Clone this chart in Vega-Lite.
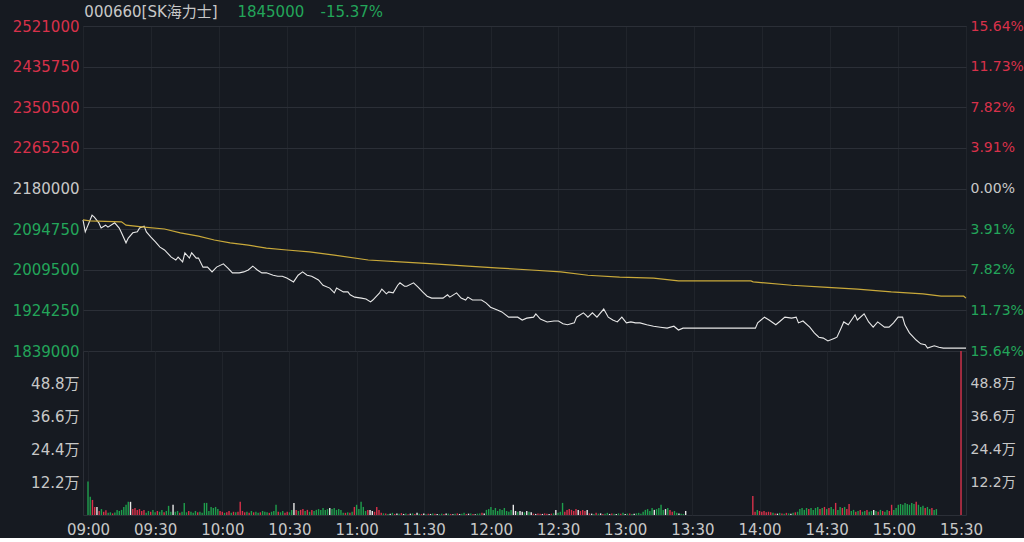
{
  "$schema": "https://vega.github.io/schema/vega-lite/v6.json",
  "background": "#161a21",
  "padding": {"left": 11, "top": 4, "right": 0, "bottom": 0},
  "spacing": 0,
  "bounds": "flush",
  "config": {
    "view": {"stroke": "#2b2f37", "strokeWidth": 1},
    "font": "DejaVu Sans",
    "axis": {"domain": false, "ticks": false, "labelFont": "DejaVu Sans", "labelFontSize": 15, "gridColor": "#2b2f37", "labelOverlap": false, "labelFlush": false, "labelBound": false}
  },
  "datasets": {
    "price": [
      {"t":0,"p":2114000},{"t":1,"p":2089000},{"t":4,"p":2124000},{"t":5,"p":2120000},{"t":7,"p":2108000},{"t":8,"p":2097000},{"t":10,"p":2103000},{"t":11,"p":2099000},{"t":13,"p":2105000},{"t":14,"p":2108000},{"t":16,"p":2097000},{"t":17,"p":2087000},{"t":19,"p":2066000},{"t":20,"p":2076000},{"t":22,"p":2087000},{"t":24,"p":2089000},{"t":25,"p":2097000},{"t":27,"p":2101000},{"t":28,"p":2089000},{"t":30,"p":2078000},{"t":32,"p":2068000},{"t":34,"p":2057000},{"t":36,"p":2051000},{"t":39,"p":2036000},{"t":41,"p":2030000},{"t":42,"p":2036000},{"t":44,"p":2026000},{"t":45,"p":2045000},{"t":47,"p":2034000},{"t":48,"p":2045000},{"t":50,"p":2034000},{"t":51,"p":2034000},{"t":53,"p":2015000},{"t":55,"p":2015000},{"t":57,"p":2005000},{"t":59,"p":2015000},{"t":62,"p":2022000},{"t":64,"p":2013000},{"t":66,"p":2003000},{"t":69,"p":2003000},{"t":71,"p":2005000},{"t":73,"p":2009000},{"t":75,"p":2017000},{"t":77,"p":2009000},{"t":79,"p":2003000},{"t":81,"p":2003000},{"t":84,"p":1998000},{"t":86,"p":1996000},{"t":88,"p":1996000},{"t":90,"p":1992000},{"t":93,"p":1984000},{"t":95,"p":1998000},{"t":97,"p":2005000},{"t":99,"p":1998000},{"t":101,"p":1996000},{"t":104,"p":1988000},{"t":106,"p":1977000},{"t":109,"p":1971000},{"t":111,"p":1961000},{"t":112,"p":1971000},{"t":115,"p":1963000},{"t":117,"p":1963000},{"t":118,"p":1957000},{"t":120,"p":1952000},{"t":123,"p":1950000},{"t":125,"p":1948000},{"t":127,"p":1942000},{"t":128,"p":1946000},{"t":131,"p":1961000},{"t":132,"p":1969000},{"t":134,"p":1959000},{"t":135,"p":1963000},{"t":137,"p":1961000},{"t":139,"p":1977000},{"t":140,"p":1982000},{"t":142,"p":1975000},{"t":143,"p":1975000},{"t":146,"p":1982000},{"t":148,"p":1973000},{"t":150,"p":1963000},{"t":152,"p":1954000},{"t":154,"p":1950000},{"t":157,"p":1950000},{"t":159,"p":1950000},{"t":161,"p":1957000},{"t":162,"p":1952000},{"t":165,"p":1961000},{"t":167,"p":1950000},{"t":169,"p":1946000},{"t":170,"p":1952000},{"t":172,"p":1946000},{"t":176,"p":1946000},{"t":178,"p":1940000},{"t":180,"p":1931000},{"t":183,"p":1925000},{"t":185,"p":1921000},{"t":188,"p":1910000},{"t":190,"p":1910000},{"t":192,"p":1910000},{"t":194,"p":1904000},{"t":196,"p":1908000},{"t":199,"p":1910000},{"t":200,"p":1917000},{"t":202,"p":1906000},{"t":205,"p":1900000},{"t":208,"p":1902000},{"t":210,"p":1902000},{"t":212,"p":1896000},{"t":214,"p":1894000},{"t":217,"p":1898000},{"t":218,"p":1910000},{"t":221,"p":1919000},{"t":222,"p":1915000},{"t":223,"p":1910000},{"t":225,"p":1919000},{"t":227,"p":1910000},{"t":230,"p":1927000},{"t":232,"p":1910000},{"t":234,"p":1904000},{"t":236,"p":1900000},{"t":238,"p":1910000},{"t":240,"p":1898000},{"t":242,"p":1900000},{"t":244,"p":1898000},{"t":246,"p":1898000},{"t":249,"p":1894000},{"t":252,"p":1891000},{"t":255,"p":1889000},{"t":258,"p":1887000},{"t":261,"p":1891000},{"t":263,"p":1883000},{"t":265,"p":1887000},{"t":268,"p":1887000},{"t":297,"p":1887000},{"t":298,"p":1898000},{"t":301,"p":1910000},{"t":303,"p":1904000},{"t":306,"p":1894000},{"t":308,"p":1902000},{"t":310,"p":1910000},{"t":313,"p":1908000},{"t":315,"p":1910000},{"t":316,"p":1898000},{"t":318,"p":1902000},{"t":321,"p":1889000},{"t":323,"p":1877000},{"t":325,"p":1868000},{"t":327,"p":1866000},{"t":329,"p":1860000},{"t":332,"p":1866000},{"t":333,"p":1868000},{"t":335,"p":1889000},{"t":336,"p":1900000},{"t":338,"p":1894000},{"t":341,"p":1915000},{"t":342,"p":1904000},{"t":345,"p":1917000},{"t":347,"p":1900000},{"t":349,"p":1889000},{"t":351,"p":1900000},{"t":354,"p":1889000},{"t":356,"p":1889000},{"t":358,"p":1898000},{"t":360,"p":1910000},{"t":362,"p":1910000},{"t":363,"p":1894000},{"t":365,"p":1877000},{"t":368,"p":1862000},{"t":370,"p":1854000},{"t":372,"p":1852000},{"t":373,"p":1845000},{"t":376,"p":1850000},{"t":378,"p":1847000},{"t":380,"p":1845000},{"t":390,"p":1845000}
    ],
    "avg": [
      {"t":0,"a":2114000},{"t":3,"a":2112000},{"t":17,"a":2110000},{"t":19,"a":2103000},{"t":27,"a":2099000},{"t":36,"a":2095000},{"t":43,"a":2087000},{"t":51,"a":2080000},{"t":58,"a":2072000},{"t":65,"a":2066000},{"t":73,"a":2061000},{"t":81,"a":2055000},{"t":90,"a":2051000},{"t":100,"a":2047000},{"t":111,"a":2040000},{"t":126,"a":2030000},{"t":140,"a":2026000},{"t":155,"a":2022000},{"t":170,"a":2017000},{"t":184,"a":2013000},{"t":198,"a":2009000},{"t":211,"a":2005000},{"t":223,"a":1998000},{"t":237,"a":1994000},{"t":252,"a":1992000},{"t":263,"a":1986000},{"t":295,"a":1986000},{"t":296,"a":1984000},{"t":313,"a":1977000},{"t":327,"a":1973000},{"t":342,"a":1969000},{"t":357,"a":1963000},{"t":371,"a":1959000},{"t":379,"a":1954000},{"t":389,"a":1954000},{"t":390,"a":1950000}
    ],
    "vol": [
      {"t":0,"v":125000,"d":"d"},{"t":1,"v":68000,"d":"d"},{"t":2,"v":56000,"d":"u"},{"t":3,"v":30000,"d":"u"},{"t":4,"v":30000,"d":"f"},{"t":5,"v":15000,"d":"u"},{"t":6,"v":22000,"d":"d"},{"t":7,"v":12000,"d":"u"},{"t":8,"v":18000,"d":"u"},{"t":9,"v":8000,"d":"d"},{"t":10,"v":10000,"d":"d"},{"t":11,"v":6000,"d":"u"},{"t":12,"v":9000,"d":"d"},{"t":13,"v":19000,"d":"d"},{"t":14,"v":15000,"d":"d"},{"t":15,"v":19000,"d":"d"},{"t":16,"v":30000,"d":"d"},{"t":17,"v":38000,"d":"d"},{"t":18,"v":49000,"d":"d"},{"t":19,"v":49000,"d":"f"},{"t":20,"v":22000,"d":"u"},{"t":21,"v":26000,"d":"u"},{"t":22,"v":19000,"d":"u"},{"t":23,"v":22000,"d":"u"},{"t":24,"v":15000,"d":"u"},{"t":25,"v":19000,"d":"u"},{"t":26,"v":8000,"d":"d"},{"t":27,"v":15000,"d":"d"},{"t":28,"v":12000,"d":"u"},{"t":29,"v":19000,"d":"d"},{"t":30,"v":10000,"d":"d"},{"t":31,"v":15000,"d":"u"},{"t":32,"v":12000,"d":"d"},{"t":33,"v":19000,"d":"d"},{"t":34,"v":10000,"d":"u"},{"t":35,"v":15000,"d":"d"},{"t":36,"v":34000,"d":"d"},{"t":37,"v":12000,"d":"d"},{"t":38,"v":38000,"d":"f"},{"t":39,"v":12000,"d":"d"},{"t":40,"v":15000,"d":"d"},{"t":41,"v":8000,"d":"u"},{"t":42,"v":12000,"d":"d"},{"t":43,"v":45000,"d":"d"},{"t":44,"v":10000,"d":"d"},{"t":45,"v":15000,"d":"u"},{"t":46,"v":12000,"d":"d"},{"t":47,"v":8000,"d":"d"},{"t":48,"v":15000,"d":"d"},{"t":49,"v":10000,"d":"u"},{"t":50,"v":12000,"d":"d"},{"t":51,"v":8000,"d":"d"},{"t":52,"v":45000,"d":"d"},{"t":53,"v":45000,"d":"d"},{"t":54,"v":15000,"d":"d"},{"t":55,"v":30000,"d":"d"},{"t":56,"v":26000,"d":"d"},{"t":57,"v":30000,"d":"d"},{"t":58,"v":22000,"d":"d"},{"t":59,"v":15000,"d":"u"},{"t":60,"v":12000,"d":"u"},{"t":61,"v":8000,"d":"d"},{"t":62,"v":10000,"d":"u"},{"t":63,"v":15000,"d":"u"},{"t":64,"v":8000,"d":"d"},{"t":65,"v":12000,"d":"u"},{"t":66,"v":10000,"d":"d"},{"t":67,"v":12000,"d":"u"},{"t":68,"v":49000,"d":"u"},{"t":69,"v":15000,"d":"u"},{"t":70,"v":10000,"d":"u"},{"t":71,"v":12000,"d":"d"},{"t":72,"v":8000,"d":"u"},{"t":73,"v":15000,"d":"d"},{"t":74,"v":10000,"d":"u"},{"t":75,"v":12000,"d":"d"},{"t":76,"v":8000,"d":"d"},{"t":77,"v":10000,"d":"u"},{"t":78,"v":15000,"d":"d"},{"t":79,"v":12000,"d":"d"},{"t":80,"v":10000,"d":"d"},{"t":81,"v":8000,"d":"u"},{"t":82,"v":12000,"d":"d"},{"t":83,"v":15000,"d":"d"},{"t":84,"v":38000,"d":"d"},{"t":85,"v":12000,"d":"u"},{"t":86,"v":10000,"d":"d"},{"t":87,"v":15000,"d":"d"},{"t":88,"v":8000,"d":"u"},{"t":89,"v":12000,"d":"u"},{"t":90,"v":10000,"d":"d"},{"t":91,"v":19000,"d":"d"},{"t":92,"v":45000,"d":"f"},{"t":93,"v":19000,"d":"u"},{"t":94,"v":15000,"d":"d"},{"t":95,"v":19000,"d":"u"},{"t":96,"v":22000,"d":"u"},{"t":97,"v":15000,"d":"d"},{"t":98,"v":19000,"d":"u"},{"t":99,"v":12000,"d":"d"},{"t":100,"v":19000,"d":"u"},{"t":101,"v":15000,"d":"d"},{"t":102,"v":19000,"d":"d"},{"t":103,"v":22000,"d":"d"},{"t":104,"v":19000,"d":"d"},{"t":105,"v":26000,"d":"d"},{"t":106,"v":19000,"d":"d"},{"t":107,"v":22000,"d":"d"},{"t":108,"v":26000,"d":"f"},{"t":109,"v":22000,"d":"d"},{"t":110,"v":26000,"d":"d"},{"t":111,"v":19000,"d":"d"},{"t":112,"v":22000,"d":"d"},{"t":113,"v":19000,"d":"d"},{"t":114,"v":8000,"d":"d"},{"t":115,"v":8000,"d":"u"},{"t":116,"v":10000,"d":"d"},{"t":117,"v":8000,"d":"u"},{"t":118,"v":12000,"d":"d"},{"t":119,"v":30000,"d":"u"},{"t":120,"v":38000,"d":"d"},{"t":121,"v":22000,"d":"d"},{"t":122,"v":49000,"d":"d"},{"t":123,"v":30000,"d":"d"},{"t":124,"v":15000,"d":"d"},{"t":125,"v":19000,"d":"u"},{"t":126,"v":19000,"d":"f"},{"t":127,"v":15000,"d":"f"},{"t":128,"v":12000,"d":"u"},{"t":129,"v":30000,"d":"u"},{"t":130,"v":19000,"d":"u"},{"t":131,"v":8000,"d":"u"},{"t":132,"v":6000,"d":"d"},{"t":133,"v":6000,"d":"u"},{"t":134,"v":4000,"d":"d"},{"t":135,"v":5000,"d":"f"},{"t":136,"v":8000,"d":"d"},{"t":137,"v":4000,"d":"u"},{"t":138,"v":6000,"d":"f"},{"t":139,"v":5000,"d":"d"},{"t":140,"v":7000,"d":"u"},{"t":141,"v":4000,"d":"f"},{"t":142,"v":6000,"d":"d"},{"t":143,"v":3000,"d":"u"},{"t":144,"v":5000,"d":"f"},{"t":145,"v":6000,"d":"d"},{"t":146,"v":4000,"d":"u"},{"t":147,"v":8000,"d":"f"},{"t":148,"v":5000,"d":"d"},{"t":149,"v":4000,"d":"u"},{"t":150,"v":6000,"d":"f"},{"t":151,"v":3000,"d":"d"},{"t":152,"v":5000,"d":"u"},{"t":153,"v":4000,"d":"f"},{"t":154,"v":6000,"d":"d"},{"t":155,"v":5000,"d":"u"},{"t":156,"v":4000,"d":"f"},{"t":157,"v":3000,"d":"d"},{"t":158,"v":5000,"d":"d"},{"t":159,"v":4000,"d":"u"},{"t":160,"v":6000,"d":"f"},{"t":161,"v":5000,"d":"d"},{"t":162,"v":4000,"d":"u"},{"t":163,"v":3000,"d":"f"},{"t":164,"v":5000,"d":"d"},{"t":165,"v":6000,"d":"u"},{"t":166,"v":4000,"d":"f"},{"t":167,"v":5000,"d":"d"},{"t":168,"v":8000,"d":"d"},{"t":169,"v":4000,"d":"u"},{"t":170,"v":5000,"d":"f"},{"t":171,"v":6000,"d":"d"},{"t":172,"v":4000,"d":"u"},{"t":173,"v":3000,"d":"f"},{"t":174,"v":5000,"d":"d"},{"t":175,"v":6000,"d":"d"},{"t":176,"v":8000,"d":"u"},{"t":177,"v":6000,"d":"f"},{"t":178,"v":19000,"d":"d"},{"t":179,"v":22000,"d":"d"},{"t":180,"v":30000,"d":"d"},{"t":181,"v":19000,"d":"d"},{"t":182,"v":26000,"d":"d"},{"t":183,"v":15000,"d":"d"},{"t":184,"v":22000,"d":"d"},{"t":185,"v":19000,"d":"d"},{"t":186,"v":26000,"d":"d"},{"t":187,"v":15000,"d":"d"},{"t":188,"v":12000,"d":"d"},{"t":189,"v":19000,"d":"d"},{"t":190,"v":38000,"d":"f"},{"t":191,"v":15000,"d":"f"},{"t":192,"v":12000,"d":"d"},{"t":193,"v":15000,"d":"f"},{"t":194,"v":12000,"d":"f"},{"t":195,"v":10000,"d":"d"},{"t":196,"v":15000,"d":"f"},{"t":197,"v":12000,"d":"d"},{"t":198,"v":10000,"d":"f"},{"t":199,"v":5000,"d":"u"},{"t":200,"v":4000,"d":"f"},{"t":201,"v":6000,"d":"u"},{"t":202,"v":5000,"d":"u"},{"t":203,"v":4000,"d":"f"},{"t":204,"v":6000,"d":"u"},{"t":205,"v":5000,"d":"u"},{"t":206,"v":4000,"d":"f"},{"t":207,"v":5000,"d":"u"},{"t":208,"v":6000,"d":"d"},{"t":209,"v":19000,"d":"f"},{"t":210,"v":8000,"d":"d"},{"t":211,"v":12000,"d":"d"},{"t":212,"v":45000,"d":"d"},{"t":213,"v":12000,"d":"u"},{"t":214,"v":19000,"d":"u"},{"t":215,"v":22000,"d":"u"},{"t":216,"v":19000,"d":"u"},{"t":217,"v":15000,"d":"u"},{"t":218,"v":22000,"d":"u"},{"t":219,"v":19000,"d":"f"},{"t":220,"v":15000,"d":"u"},{"t":221,"v":19000,"d":"u"},{"t":222,"v":15000,"d":"u"},{"t":223,"v":19000,"d":"f"},{"t":224,"v":6000,"d":"u"},{"t":225,"v":5000,"d":"f"},{"t":226,"v":4000,"d":"d"},{"t":227,"v":8000,"d":"u"},{"t":228,"v":5000,"d":"d"},{"t":229,"v":6000,"d":"f"},{"t":230,"v":4000,"d":"u"},{"t":231,"v":5000,"d":"d"},{"t":232,"v":8000,"d":"d"},{"t":233,"v":4000,"d":"f"},{"t":234,"v":6000,"d":"u"},{"t":235,"v":5000,"d":"d"},{"t":236,"v":4000,"d":"f"},{"t":237,"v":6000,"d":"d"},{"t":238,"v":5000,"d":"u"},{"t":239,"v":8000,"d":"d"},{"t":240,"v":4000,"d":"f"},{"t":241,"v":5000,"d":"d"},{"t":242,"v":6000,"d":"u"},{"t":243,"v":4000,"d":"d"},{"t":244,"v":5000,"d":"f"},{"t":245,"v":6000,"d":"d"},{"t":246,"v":8000,"d":"d"},{"t":247,"v":5000,"d":"d"},{"t":248,"v":12000,"d":"d"},{"t":249,"v":19000,"d":"d"},{"t":250,"v":22000,"d":"d"},{"t":251,"v":15000,"d":"d"},{"t":252,"v":26000,"d":"d"},{"t":253,"v":19000,"d":"f"},{"t":254,"v":22000,"d":"d"},{"t":255,"v":26000,"d":"d"},{"t":256,"v":38000,"d":"d"},{"t":257,"v":19000,"d":"d"},{"t":258,"v":22000,"d":"f"},{"t":259,"v":26000,"d":"d"},{"t":260,"v":19000,"d":"u"},{"t":261,"v":12000,"d":"u"},{"t":262,"v":15000,"d":"d"},{"t":263,"v":8000,"d":"d"},{"t":264,"v":6000,"d":"f"},{"t":265,"v":5000,"d":"d"},{"t":266,"v":4000,"d":"d"},{"t":267,"v":15000,"d":"f"},{"t":297,"v":71000,"d":"u"},{"t":298,"v":12000,"d":"u"},{"t":299,"v":19000,"d":"d"},{"t":300,"v":15000,"d":"u"},{"t":301,"v":12000,"d":"u"},{"t":302,"v":15000,"d":"u"},{"t":303,"v":10000,"d":"u"},{"t":304,"v":12000,"d":"u"},{"t":305,"v":10000,"d":"u"},{"t":306,"v":8000,"d":"d"},{"t":307,"v":6000,"d":"u"},{"t":308,"v":5000,"d":"f"},{"t":309,"v":8000,"d":"d"},{"t":310,"v":6000,"d":"u"},{"t":311,"v":5000,"d":"d"},{"t":312,"v":8000,"d":"u"},{"t":313,"v":6000,"d":"d"},{"t":314,"v":5000,"d":"f"},{"t":315,"v":8000,"d":"d"},{"t":316,"v":10000,"d":"u"},{"t":317,"v":12000,"d":"d"},{"t":318,"v":22000,"d":"d"},{"t":319,"v":26000,"d":"d"},{"t":320,"v":19000,"d":"d"},{"t":321,"v":26000,"d":"d"},{"t":322,"v":22000,"d":"u"},{"t":323,"v":26000,"d":"d"},{"t":324,"v":19000,"d":"d"},{"t":325,"v":26000,"d":"d"},{"t":326,"v":30000,"d":"d"},{"t":327,"v":22000,"d":"u"},{"t":328,"v":26000,"d":"d"},{"t":329,"v":30000,"d":"u"},{"t":330,"v":22000,"d":"d"},{"t":331,"v":26000,"d":"u"},{"t":332,"v":30000,"d":"d"},{"t":333,"v":22000,"d":"d"},{"t":334,"v":45000,"d":"u"},{"t":335,"v":19000,"d":"d"},{"t":336,"v":30000,"d":"d"},{"t":337,"v":26000,"d":"u"},{"t":338,"v":30000,"d":"d"},{"t":339,"v":22000,"d":"u"},{"t":340,"v":41000,"d":"u"},{"t":341,"v":15000,"d":"d"},{"t":342,"v":19000,"d":"d"},{"t":343,"v":12000,"d":"u"},{"t":344,"v":15000,"d":"d"},{"t":345,"v":19000,"d":"u"},{"t":346,"v":12000,"d":"d"},{"t":347,"v":15000,"d":"d"},{"t":348,"v":19000,"d":"u"},{"t":349,"v":12000,"d":"d"},{"t":350,"v":15000,"d":"d"},{"t":351,"v":19000,"d":"f"},{"t":352,"v":15000,"d":"d"},{"t":353,"v":12000,"d":"u"},{"t":354,"v":19000,"d":"d"},{"t":355,"v":15000,"d":"u"},{"t":356,"v":12000,"d":"d"},{"t":357,"v":19000,"d":"d"},{"t":358,"v":15000,"d":"u"},{"t":359,"v":38000,"d":"u"},{"t":360,"v":19000,"d":"d"},{"t":361,"v":26000,"d":"d"},{"t":362,"v":38000,"d":"d"},{"t":363,"v":41000,"d":"d"},{"t":364,"v":38000,"d":"d"},{"t":365,"v":45000,"d":"d"},{"t":366,"v":41000,"d":"d"},{"t":367,"v":38000,"d":"d"},{"t":368,"v":45000,"d":"d"},{"t":369,"v":41000,"d":"d"},{"t":370,"v":49000,"d":"u"},{"t":371,"v":38000,"d":"d"},{"t":372,"v":30000,"d":"d"},{"t":373,"v":34000,"d":"d"},{"t":374,"v":26000,"d":"u"},{"t":375,"v":30000,"d":"d"},{"t":376,"v":22000,"d":"d"},{"t":377,"v":26000,"d":"u"},{"t":378,"v":19000,"d":"d"},{"t":379,"v":22000,"d":"d"},{"t":390,"v":800000,"d":"u"}
    ]
  },
  "vconcat": [
    {
      "width": 883,
      "height": 325,
      "layer": [
        {
          "data": {"name": "price"},
          "mark": {"type": "line", "color": "#e8e8e8", "strokeWidth": 1.1, "interpolate": "linear"},
          "encoding": {
            "x": {"field": "t", "type": "quantitative", "scale": {"domain": [0, 390], "nice": false, "zero": false},
                  "axis": {"title": null, "labels": false, "values": [0,30,60,90,120,150,180,210,240,270,300,330,360,390], "grid": true, "gridColor": "#20242b"}},
            "y": {"field": "p", "type": "quantitative", "scale": {"domain": [1839000, 2521000], "nice": false, "zero": false},
                  "axis": {"title": null, "orient": "left", "values": [1839000,1924250,2009500,2094750,2180000,2265250,2350500,2435750,2521000], "format": "d", "grid": true, "labelPadding": 4,
                           "labelColor": {"expr": "datum.value > 2180000 ? '#d8314a' : (datum.value < 2180000 ? '#23a55a' : '#c8c8c8')"}}}
          }
        },
        {
          "data": {"name": "avg"},
          "mark": {"type": "line", "color": "#c9a93a", "strokeWidth": 1.2},
          "encoding": {
            "x": {"field": "t", "type": "quantitative"},
            "y": {"field": "a", "type": "quantitative", "scale": {"domain": [1839000, 2521000], "nice": false, "zero": false},
                  "axis": {"title": null, "orient": "right", "values": [1839000,1924250,2009500,2094750,2180000,2265250,2350500,2435750,2521000], "grid": false, "labelPadding": 4, "labelFontSize": 14,
                           "labelExpr": "format(abs(datum.value / 2180000 - 1) * 100, '.2f') + '%'",
                           "labelColor": {"expr": "datum.value > 2180000 ? '#d8314a' : (datum.value < 2180000 ? '#23a55a' : '#c8c8c8')"}}}
          }
        },
        {
          "data": {"values": [{"label": "000660[SK海力士]"}]},
          "mark": {"type": "text", "align": "left", "baseline": "middle", "fontSize": 15, "color": "#c8c8c8", "font": "DejaVu Sans, Noto Sans CJK SC"},
          "encoding": {
            "x": {"datum": 0.6},
            "y": {"datum": 2550000, "scale": {"domain": [1839000, 2521000], "nice": false, "zero": false}, "axis": null},
            "text": {"field": "label"}
          }
        },
        {
          "data": {"values": [{"label": "1845000"}]},
          "mark": {"type": "text", "align": "left", "baseline": "middle", "fontSize": 15, "color": "#23a55a"},
          "encoding": {
            "x": {"datum": 68.2},
            "y": {"datum": 2550000, "scale": {"domain": [1839000, 2521000], "nice": false, "zero": false}, "axis": null},
            "text": {"field": "label"}
          }
        },
        {
          "data": {"values": [{"label": "-15.37%"}]},
          "mark": {"type": "text", "align": "left", "baseline": "middle", "fontSize": 15, "color": "#23a55a"},
          "encoding": {
            "x": {"datum": 104.9},
            "y": {"datum": 2550000, "scale": {"domain": [1839000, 2521000], "nice": false, "zero": false}, "axis": null},
            "text": {"field": "label"}
          }
        }
      ],
      "resolve": {"scale": {"y": "independent"}, "axis": {"y": "independent"}}
    },
    {
      "width": 883,
      "height": 164,
      "layer": [
        {
          "data": {"name": "vol"},
          "mark": {"type": "bar", "width": 1.4, "clip": true},
          "encoding": {
            "x": {"field": "t", "type": "quantitative", "scale": {"domain": [0, 390], "nice": false, "zero": false},
                  "axis": {"title": null, "values": [0,30,60,90,120,150,180,210,240,270,300,330,360,390], "grid": true, "gridColor": "#20242b", "labelColor": "#c8c8c8", "labelPadding": 7, "labelFontSize": 15,
                           "labelExpr": "timeFormat(datetime(2000, 0, 1, 9, datum.value), '%H:%M')"}},
            "y": {"field": "v", "type": "quantitative", "scale": {"domain": [0, 610000], "nice": false},
                  "axis": {"title": null, "orient": "left", "values": [122000, 244000, 366000, 488000], "grid": false, "labelColor": "#c8c8c8", "labelPadding": 4, "labelFont": "DejaVu Sans, Noto Sans CJK SC",
                           "labelExpr": "format(datum.value / 10000, '.1f') + '万'"}},
            "color": {"field": "d", "type": "nominal", "scale": {"domain": ["u", "d", "f"], "range": ["#d8314a", "#1f9e4c", "#e8e8e8"]}, "legend": null}
          }
        },
        {
          "data": {"name": "vol"},
          "mark": {"type": "bar", "width": 1.4, "clip": true, "opacity": 0},
          "encoding": {
            "x": {"field": "t", "type": "quantitative"},
            "y": {"field": "v", "type": "quantitative", "scale": {"domain": [0, 610000], "nice": false},
                  "axis": {"title": null, "orient": "right", "values": [122000, 244000, 366000, 488000], "grid": false, "labelColor": "#c8c8c8", "labelPadding": 4, "labelFontSize": 14, "labelFont": "DejaVu Sans, Noto Sans CJK SC",
                           "labelExpr": "format(datum.value / 10000, '.1f') + '万'"}}
          }
        }
      ],
      "resolve": {"scale": {"y": "independent"}, "axis": {"y": "independent"}}
    }
  ]
}
